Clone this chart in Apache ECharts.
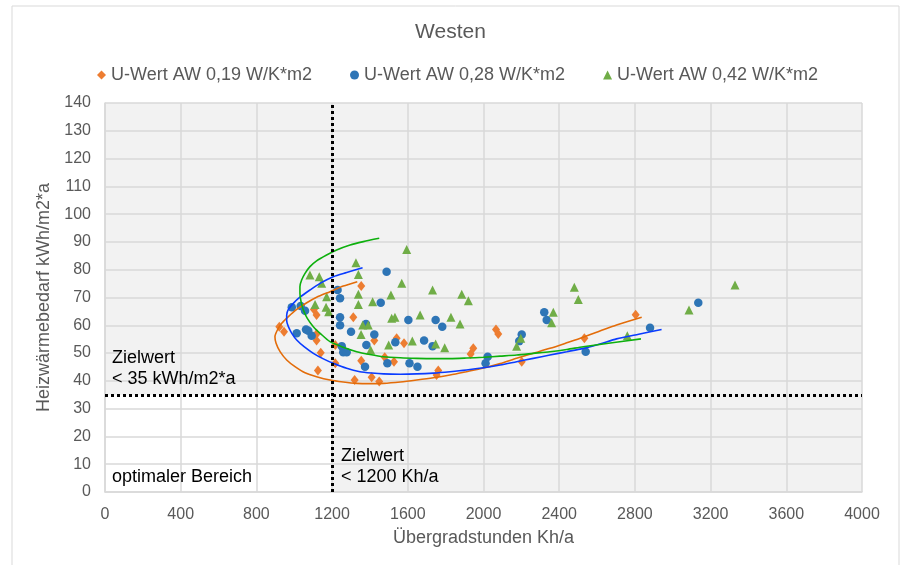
<!DOCTYPE html>
<html>
<head>
<meta charset="utf-8">
<script src="https://cdn.jsdelivr.net/npm/echarts@6/dist/echarts.min.js"></script>
<style>
html,body{margin:0;padding:0;background:#fff;}
#c{width:901px;height:565px;}
</style>
</head>
<body>
<div id="c"></div>
<script>
// ---- data (x: Übergradstunden Kh/a, y: Heizwärmebedarf kWh/m2*a) ----
const seriesNames = ['U-Wert AW 0,19 W/K*m2', 'U-Wert AW 0,28 W/K*m2', 'U-Wert AW 0,42 W/K*m2'];

const data019 = [[921,59.5],[946,57.7],[1104,65.7],[1118,63.7],[1118,56.9],[1118,54.5],[1140,50.1],[1125,43.7],[1217,52.9],[1217,46.3],[1312,62.9],[1354,74.1],[1354,47.2],[1319,40.3],[1409,41.3],[1449,39.8],[1423,54.5],[1478,48.5],[1527,46.9],[1541,55.3],[1580,53.5],[1761,43.7],[1752,42.1],[1932,49.7],[1946,51.7],[2066,58.5],[2078,56.9],[2202,46.9],[2533,55.3],[2804,63.8]];

const data028 = [[987,66.5],[1034,66.9],[1057,65.2],[1013,57.1],[1062,58.5],[1074,58.0],[1092,56.2],[1229,72.7],[1242,69.7],[1242,62.9],[1242,60.0],[1300,57.7],[1379,60.5],[1423,56.7],[1381,52.9],[1251,52.5],[1259,50.3],[1277,50.3],[1374,45.1],[1488,79.3],[1457,68.1],[1492,46.3],[1534,53.9],[1603,61.9],[1609,46.3],[1651,45.1],[1686,54.5],[1731,52.5],[1747,61.9],[1782,59.5],[2022,48.7],[2011,46.3],[2202,56.7],[2189,54.3],[2321,64.7],[2334,61.9],[2540,50.5],[2880,59.1],[3135,68.1]];

const data042 = [[1083,78.1],[1132,77.5],[1145,75.1],[1171,70.3],[1110,67.5],[1168,66.5],[1182,64.9],[1326,82.5],[1339,78.3],[1339,71.2],[1339,67.5],[1414,68.5],[1511,70.9],[1568,75.1],[1594,87.3],[1362,60.1],[1391,60.1],[1353,56.7],[1404,51.1],[1515,62.5],[1532,62.9],[1665,63.7],[1499,52.9],[1624,54.3],[1731,72.7],[1747,53.3],[1795,51.9],[1828,62.9],[1876,60.5],[1885,71.2],[1920,68.8],[2480,73.7],[2501,69.3],[2369,64.7],[2360,60.9],[2197,55.3],[2175,52.5],[2760,56.2],[3086,65.5],[3329,74.5]];

// trend curves
const curve019 = [[1333,75.7],[1259,74.1],[1189,72.1],[1118,70.1],[1066,68.1],[1013,65.7],[969,63.1],[934,60.7],[911,58.3],[898,55.9],[904,53.5],[925,50.5],[960,47.5],[1004,45.1],[1057,42.9],[1118,41.5],[1189,40.3],[1259,39.6],[1330,39.1],[1400,39.0],[1471,39.1],[1560,39.6],[1647,40.3],[1735,41.1],[1823,42.1],[1910,43.3],[2000,44.6],[2088,46.2],[2175,48.1],[2263,49.9],[2351,51.7],[2440,53.7],[2527,55.7],[2615,57.9],[2703,60.1],[2836,62.9]];
const curve028 = [[1361,80.7],[1277,79.0],[1206,77.5],[1136,75.1],[1083,72.7],[1030,70.1],[995,67.9],[969,65.7],[960,63.7],[960,61.6],[969,59.5],[987,57.1],[1013,54.7],[1052,52.3],[1101,49.9],[1154,47.9],[1206,46.3],[1277,44.5],[1347,43.3],[1410,42.8],[1471,42.5],[1560,42.4],[1647,42.5],[1735,42.8],[1823,43.3],[1910,43.9],[2000,44.7],[2088,45.7],[2175,46.9],[2263,48.1],[2351,49.3],[2440,50.5],[2527,51.7],[2615,53.3],[2703,55.1],[2820,56.8],[2941,58.5]];
const curve042 = [[1449,91.3],[1365,90.1],[1295,88.9],[1224,87.1],[1171,85.3],[1118,83.2],[1083,81.1],[1057,78.7],[1039,76.3],[1030,73.9],[1030,71.5],[1036,68.5],[1048,65.5],[1069,62.5],[1101,59.5],[1140,56.9],[1189,54.1],[1259,52.1],[1330,50.5],[1400,49.5],[1471,48.7],[1560,48.3],[1647,48.1],[1735,48.0],[1823,48.0],[1910,48.2],[2000,48.5],[2088,48.9],[2175,49.3],[2263,49.9],[2351,50.5],[2440,51.3],[2527,52.3],[2680,53.7],[2832,55.1]];

// target values
const targetX = 1200;
const targetY = 35;
const xMin = 0, xMax = 4000, xStep = 400;
const yMin = 0, yMax = 140, yStep = 10;

const chart = echarts.init(document.getElementById('c'), null, {renderer: 'canvas'});
const FONT = 'Liberation Sans, Arial, sans-serif';
const grey = '#595959';

const option = {
  animation: false,
  backgroundColor: '#ffffff',
  title: {
    text: 'Westen', left: 'center', top: 17,
    textStyle: {fontFamily: FONT, fontSize: 21, fontWeight: 'normal', color: grey}
  },
  legend: {
    data: seriesNames, top: 61, left: 92, itemGap: 38,
    itemWidth: 9, itemHeight: 9,
    textStyle: {fontFamily: FONT, fontSize: 18, color: grey}
  },
  grid: {left: 105, right: 39, top: 103, bottom: 73, show: true, backgroundColor: '#f2f2f2', borderWidth: 0, z: 0},
  xAxis: {
    type: 'value', min: xMin, max: xMax, interval: xStep, z: 2,
    name: 'Übergradstunden Kh/a', nameLocation: 'middle', nameGap: 37,
    nameTextStyle: {fontFamily: FONT, fontSize: 18, color: grey},
    axisLine: {show: true, lineStyle: {color: '#d9d9d9', width: 1.5}},
    axisTick: {show: false},
    axisLabel: {fontFamily: FONT, fontSize: 16, color: grey, margin: 15, formatter: v => String(v)},
    splitLine: {show: true, lineStyle: {color: '#d9d9d9', width: 1.5}}
  },
  yAxis: {
    type: 'value', min: yMin, max: yMax, interval: yStep, z: 2,
    name: 'Heizwärmebedarf kWh/m2*a', nameLocation: 'middle', nameGap: 48,
    nameTextStyle: {fontFamily: FONT, fontSize: 18, color: grey},
    axisLine: {show: true, lineStyle: {color: '#d9d9d9', width: 1.5}},
    axisTick: {show: false},
    axisLabel: {fontFamily: FONT, fontSize: 16, color: grey, margin: 14, formatter: v => String(v)},
    splitLine: {show: true, lineStyle: {color: '#d9d9d9', width: 1.5}}
  },
  series: [
    {
      name: 'bereich', type: 'scatter', data: [], z: 1, silent: true,
      markArea: {
        silent: true,
        itemStyle: {color: '#ffffff', opacity: 1},
        data: [[{coord: [xMin, yMin]}, {coord: [targetX, targetY]}]]
      }
    },
    {name: seriesNames[0], type: 'scatter', data: data019, symbol: 'diamond', symbolSize: [8, 10], z: 3,
      itemStyle: {color: '#ED7D31', opacity: 1}},
    {name: seriesNames[1], type: 'scatter', data: data028, symbol: 'circle', symbolSize: 8.5, z: 3,
      itemStyle: {color: '#2E75B6', opacity: 1}},
    {name: seriesNames[2], type: 'scatter', data: data042, symbol: 'triangle', symbolSize: [9, 9], z: 3,
      itemStyle: {color: '#70AD47', opacity: 1}},
    {name: 'trend019', type: 'line', data: curve019, smooth: 0.25, showSymbol: false, symbol: 'none', z: 4, silent: true,
      lineStyle: {color: '#E36C09', width: 1.6}},
    {name: 'trend028', type: 'line', data: curve028, smooth: 0.25, showSymbol: false, symbol: 'none', z: 4, silent: true,
      lineStyle: {color: '#0A3CFF', width: 1.6}},
    {name: 'trend042', type: 'line', data: curve042, smooth: 0.25, showSymbol: false, symbol: 'none', z: 4, silent: true,
      lineStyle: {color: '#0DB00D', width: 1.6}},
    {
      name: 'ziel', type: 'scatter', data: [], z: 5, silent: true,
      markLine: {
        silent: true, symbol: ['none', 'none'], label: {show: false},
        lineStyle: {color: '#000000', width: 3, type: [3, 3]},
        data: [{xAxis: targetX}, {yAxis: targetY}]
      }
    }
  ],
  graphic: [
    {type: 'rect', z: -10, silent: true, shape: {x: 12, y: 6, width: 887, height: 600},
      style: {fill: 'none', stroke: '#d9d9d9', lineWidth: 1}},
    {type: 'text', z: 10, left: 112, top: 348, style: {text: 'Zielwert\n< 35 kWh/m2*a', fontFamily: FONT, fontSize: 18, fill: '#000', lineHeight: 21}},
    {type: 'text', z: 10, left: 112, top: 467, style: {text: 'optimaler Bereich', fontFamily: FONT, fontSize: 18, fill: '#000', lineHeight: 21}},
    {type: 'text', z: 10, left: 341, top: 446, style: {text: 'Zielwert\n< 1200 Kh/a', fontFamily: FONT, fontSize: 18, fill: '#000', lineHeight: 21}}
  ]
};
chart.setOption(option);
</script>
</body>
</html>
